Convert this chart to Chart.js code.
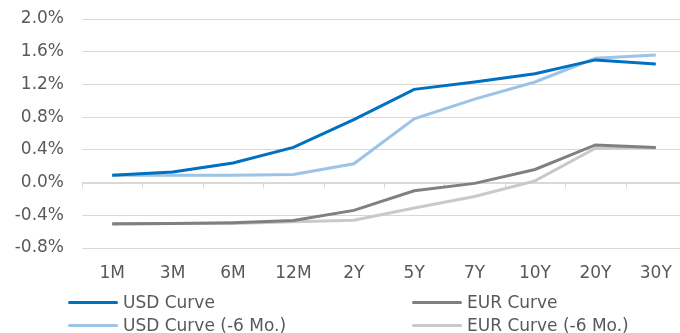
<!DOCTYPE html>
<html>
<head>
<meta charset="utf-8">
<script src="https://cdn.jsdelivr.net/npm/chart.js@4/dist/chart.umd.min.js"></script>
<style>
  html, body { margin: 0; padding: 0; background: #fff; overflow: hidden; }
  #wrap { position: relative; width: 680px; height: 333px; overflow: hidden; }
  canvas { position: absolute; left: 0; top: 0; }
  .lg { position: absolute; font: 17px "DejaVu Sans", Verdana, sans-serif; line-height: 20px; color: #595959; white-space: nowrap; }
  .lg i { position: absolute; left: -55px; top: 9px; width: 50px; height: 3px; border-radius: 2px; }
</style>
</head>
<body>
<div id="wrap">
  <canvas id="curveChart" width="690" height="333"></canvas>
  <div id="legend"></div>
</div>
<script>
const tenors = ['1M', '3M', '6M', '12M', '2Y', '5Y', '7Y', '10Y', '20Y', '30Y'];
const usdCurve = [0.09, 0.13, 0.24, 0.43, 0.77, 1.14, 1.23, 1.33, 1.50, 1.45];
const usdCurve6m = [0.09, 0.09, 0.09, 0.10, 0.23, 0.78, 1.02, 1.23, 1.52, 1.56];
const eurCurve = [-0.505, -0.50, -0.49, -0.465, -0.34, -0.10, -0.01, 0.16, 0.46, 0.43];
const eurCurve6m = [-0.51, -0.50, -0.50, -0.48, -0.46, -0.31, -0.17, 0.02, 0.42, 0.43];

const seriesNames = ['USD Curve', 'USD Curve (-6 Mo.)', 'EUR Curve', 'EUR Curve (-6 Mo.)'];
const seriesColors = ['#0070C0', '#9DC3E6', '#808080', '#C9C9C9'];
const fontFamily = '"DejaVu Sans", Verdana, sans-serif';

// axis line at 0% with category tick marks
const zeroAxis = {
    id: 'zeroAxis',
    beforeDatasetsDraw(chart) {
        const { ctx, chartArea, scales } = chart;
        const y0 = Math.round(scales.y.getPixelForValue(0)) + 0.5;
        ctx.save();
        ctx.strokeStyle = '#D9D9D9';
        ctx.lineWidth = 1;
        ctx.beginPath();
        ctx.moveTo(chartArea.left, y0);
        ctx.lineTo(chartArea.right, y0);
        for (let i = 0; i <= tenors.length; i++) {
            const x = Math.round(scales.x.getPixelForValue(i - 0.5)) + 0.5;
            ctx.moveTo(x, y0);
            ctx.lineTo(x, y0 + 5);
        }
        ctx.stroke();
        ctx.restore();
    }
};

const ctx = document.getElementById('curveChart').getContext('2d');
new Chart(ctx, {
    type: 'line',
    data: {
        labels: tenors,
        datasets: [usdCurve, usdCurve6m, eurCurve, eurCurve6m].map((d, i) => ({
            label: seriesNames[i],
            data: d,
            borderColor: seriesColors[i],
            borderWidth: 3,
            pointRadius: 0,
            tension: 0,
            fill: false
        }))
    },
    options: {
        responsive: false,
        animation: false,
        layout: { padding: { top: 19, bottom: 45, left: 0, right: 4 } },
        plugins: {
            legend: { display: false },
            tooltip: { enabled: false }
        },
        scales: {
            x: {
                offset: true,
                grid: { display: false, drawTicks: false },
                border: { display: false },
                ticks: {
                    padding: 15,
                    color: '#595959',
                    font: { family: fontFamily, size: 17 },
                    maxRotation: 0,
                    autoSkip: false
                },
                afterFit: s => { s.height = 40; }
            },
            y: {
                min: -0.8,
                max: 2.0,
                // invisible tick marks keep the labels away from the plot
                grid: { color: '#D9D9D9', drawTicks: true, tickLength: 18, tickColor: 'rgba(0,0,0,0)' },
                border: { display: false },
                ticks: {
                    stepSize: 0.4,
                    padding: 0,
                    color: '#595959',
                    font: { family: fontFamily, size: 17 },
                    callback: v => (Math.abs(v) < 1e-9 ? 0 : v).toFixed(1) + '%'
                },
                afterFit: s => { s.width = 82; }
            }
        }
    },
    plugins: [zeroAxis]
});

// legend in two columns
const legendPos = [[123, 292], [123, 315], [467, 292], [467, 315]];
const legendEl = document.getElementById('legend');
seriesNames.forEach((name, i) => {
    const d = document.createElement('div');
    d.className = 'lg';
    d.style.left = legendPos[i][0] + 'px';
    d.style.top = legendPos[i][1] + 'px';
    d.innerHTML = '<i style="background:' + seriesColors[i] + '"></i>' + name;
    legendEl.appendChild(d);
});
</script>
</body>
</html>
